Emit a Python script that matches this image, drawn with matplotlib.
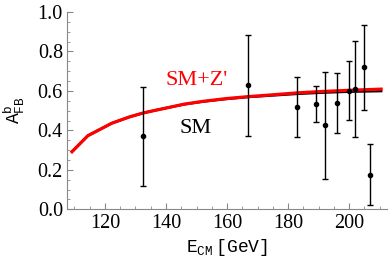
import numpy as np
import matplotlib
matplotlib.use("Agg")
from matplotlib import pyplot as plt
from matplotlib.ticker import MultipleLocator

plt.rcParams['font.family'] = 'Liberation Serif'
plt.rcParams['mathtext.fontset'] = 'custom'
plt.rcParams['mathtext.rm'] = 'Liberation Mono'

# LEP measurements of A_FB^b
e_cm = [132.5, 167.0, 183.0, 189.0, 192.0, 196.0, 200.0, 202.0, 205.0, 207.0]
afb = [0.37, 0.628, 0.518, 0.533, 0.426, 0.538, 0.601, 0.611, 0.719, 0.176]
afb_err = [0.25, 0.256, 0.15, 0.09, 0.27, 0.153, 0.148, 0.244, 0.215, 0.156]

# theory curves
curve_e = [109.2, 114.4, 122.2, 128.0, 132.5, 136.0, 141.2, 146.0, 152.1,
           159.7, 166.9, 173.9, 183.0, 191.0, 200.0, 210.5]
sm_zp = [0.292, 0.373, 0.436, 0.468, 0.488, 0.500, 0.517, 0.533, 0.547,
         0.561, 0.571, 0.579, 0.590, 0.597, 0.603, 0.609]
sm = [0.292, 0.373, 0.436, 0.468, 0.488, 0.500, 0.517, 0.532, 0.546,
      0.559, 0.569, 0.576, 0.585, 0.591, 0.596, 0.599]

fig = plt.figure(figsize=(3.88, 2.65), dpi=100)
ax = fig.add_axes([0.173, 0.21, 0.825, 0.745])

ax.plot(curve_e, sm, color='black', lw=1.8, zorder=2)
ax.plot(curve_e, sm_zp, color='red', lw=2.3, zorder=3)
ax.errorbar(e_cm, afb, yerr=afb_err, fmt='o', color='black', ms=3,
            elinewidth=1.0, capsize=2.5, capthick=1.0, zorder=4)

ax.text(150, 0.655, "SM+Z'", color='red', fontsize=16, ha='center', va='center')
ax.text(149.7, 0.407, "SM", color='black', fontsize=16, ha='center', va='center')

ax.set_xlim(107.6, 212.5)
ax.set_ylim(0, 1.0)
ax.xaxis.set_major_locator(MultipleLocator(20))
ax.xaxis.set_minor_locator(MultipleLocator(5))
ax.yaxis.set_major_locator(MultipleLocator(0.2))
ax.yaxis.set_minor_locator(MultipleLocator(0.05))
ax.yaxis.set_major_formatter(matplotlib.ticker.FormatStrFormatter('%.1f'))

for s in ['top', 'right']:
    ax.spines[s].set_visible(False)
for s in ['left', 'bottom']:
    ax.spines[s].set_color('#888888')
    ax.spines[s].set_linewidth(0.8)
ax.tick_params(which='both', direction='in', color='#888888', labelsize=14.5, pad=3)
ax.tick_params(which='major', length=4, width=0.8)
ax.tick_params(which='minor', length=2, width=0.6)

ax.set_xlabel(r'$\mathrm{E}_{\mathrm{CM}}\,[\mathrm{GeV}]$', fontsize=13, labelpad=3)
ax.set_ylabel(r'$\mathrm{A}^{\mathrm{b}}_{\mathrm{FB}}$', fontsize=13, labelpad=8)

fig.savefig('out.png', dpi=100)
